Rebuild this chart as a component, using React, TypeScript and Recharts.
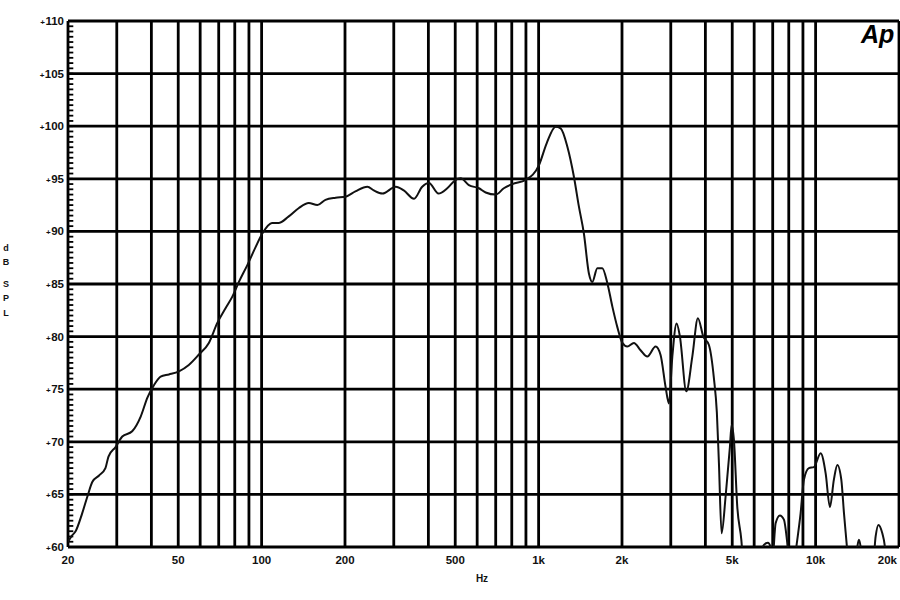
import React from 'react'
import { LineChart, Line, XAxis, YAxis, CartesianGrid, ReferenceLine } from 'recharts'

// frequency response (Hz, dB SPL)
const FREQS = [
  20, 20.7, 21.3, 22.5, 23.5, 24.5, 25.9, 27.3, 28, 29.7, 31.4, 34.1, 36.6, 38.7, 40.9, 43.2, 46.3, 50.3,
  54.6, 59.4, 64.5, 69.2, 74.1, 78.4, 82.8, 88.8, 95.1, 100.6, 109, 115, 125, 136, 148, 159, 170, 185, 201,
  218, 241, 254, 273, 305, 326, 355, 380, 402, 435, 468, 502, 523, 560, 609, 644, 700, 749, 804, 898, 1003,
  1070, 1152, 1201, 1270, 1341, 1398, 1457, 1519, 1563, 1629, 1698, 1770, 1846, 1924, 2006, 2090, 2208,
  2334, 2469, 2645, 2756, 2874, 2954, 3039, 3149, 3237, 3414, 3588, 3759, 3932, 4119, 4295, 4400, 4476,
  4577, 4732, 4904, 4974, 5070, 5215, 5392, 5496, 5826, 6346, 6507, 6726, 6878, 6994, 7171, 7431, 7683,
  7902, 8055, 8328, 8538, 8826, 9073, 9458, 9860, 10430, 10870, 11260, 11640, 11980, 12380, 12660, 12940,
  13270, 13710, 14140, 14330, 14540, 14780, 16060, 16470, 16850, 17410, 17750, 18050, 20000,
]
const SPL = [
  60.5, 61.1, 61.5, 63.2, 64.8, 66.2, 66.8, 67.5, 68.6, 69.5, 70.5, 71.0, 72.4, 74.2, 75.4, 76.2, 76.4, 76.7,
  77.3, 78.3, 79.4, 81.3, 82.7, 83.8, 85.2, 86.8, 88.5, 89.8, 90.8, 90.8, 91.4, 92.2, 92.7, 92.5, 93.0, 93.2, 93.3,
  93.8, 94.25, 93.9, 93.6, 94.25, 93.9, 93.1, 94.25, 94.6, 93.6, 94.1, 94.9, 95.05, 94.4, 94.1, 93.7, 93.5, 94.1,
  94.5, 94.9, 96.3, 98.4, 99.95, 99.8, 98.05, 95.2, 92.35, 89.8, 86.0, 85.2, 86.5, 86.5, 85.1, 82.85, 80.9, 79.4,
  79.05, 79.4, 78.7, 78.1, 79.05, 78.25, 75.2, 73.65, 78.1, 81.25, 80.0, 74.8, 78.1, 81.75, 80.0, 79.2, 76.0,
  72.8, 68.0, 61.3, 64.8, 69.5, 71.6, 70.2, 63.8, 60.7, 58, 55, 59.5, 60.2, 60.4, 60.0, 59, 62.25, 63.0, 62.6,
  60.35, 58, 58, 60.2, 63.2, 66.4, 67.5, 67.6, 68.9, 67.0, 63.8, 66.4, 67.8, 66.4, 63.2, 60.35, 57, 57, 60.0,
  60.7, 60.0, 58, 58, 61.0, 62.1, 61.3, 60.2, 58, 57,
]

const GRID_FREQS = [
  20, 30, 40, 50, 60, 70, 80, 90, 100, 200, 300, 400, 500, 600, 700, 800, 900, 1000, 2000, 3000, 4000,
  5000, 6000, 7000, 8000, 9000, 10000, 20000,
]
const FREQ_LABELS: Record<number, string> = {
  20: '20', 50: '50', 100: '100', 200: '200', 500: '500', 1000: '1k', 2000: '2k', 5000: '5k',
  10000: '10k', 20000: '20k',
}
const DB_TICKS = [60, 65, 70, 75, 80, 85, 90, 95, 100, 105, 110]
const MINOR_TICKS = Array.from({ length: 101 }, (_, i) => 60 + i * 0.5)

const data = FREQS.map((f, i) => ({ f, spl: SPL[i] }))

const FONT = '"Liberation Sans", Arial, sans-serif'

const FreqTick = (props: any) => {
  const { x, y, payload } = props
  const label = FREQ_LABELS[payload.value]
  if (!label) return <g />
  const last = payload.value === 20000
  return (
    <text x={last ? x - 2 : x} y={y + 17} textAnchor={last ? 'end' : 'middle'} fontFamily={FONT}
      fontWeight="bold" fontSize={11.5} fill="#111">
      {label}
    </text>
  )
}

const DbTick = (props: any) => {
  const { x, y, payload } = props
  return (
    <text x={x - 4} y={y + 4} textAnchor="end" fontFamily={FONT} fontWeight="bold" fontSize={11.5} fill="#111">
      <tspan fontSize={8}>+</tspan>
      <tspan dx={0.5}>{payload.value}</tspan>
    </text>
  )
}

const App: React.FC = () => {
  return (
    <div style={{ position: 'absolute', left: 0, top: 0, width: 900, height: 600, background: '#fff' }}>
      <LineChart width={900} height={600} data={data} margin={{ top: 21, right: 1, left: 0, bottom: 0 }}>
        <CartesianGrid stroke="#000" strokeWidth={2.8} />
        {/* ruler marks every half dB along the left edge */}
        {MINOR_TICKS.map((v) => (
          <ReferenceLine
            key={'m' + v}
            segment={[{ x: 20, y: v }, { x: 20.9, y: v }]}
            stroke="#000"
            strokeWidth={1.8}
          />
        ))}
        <XAxis
          dataKey="f"
          type="number"
          scale="log"
          domain={[20, 20000]}
          allowDataOverflow
          ticks={GRID_FREQS}
          interval={0}
          tick={<FreqTick />}
          tickLine={false}
          axisLine={false}
          tickSize={0}
          tickMargin={0}
          height={53}
        />
        <YAxis
          type="number"
          domain={[60, 110]}
          allowDataOverflow
          ticks={DB_TICKS}
          interval={0}
          width={68}
          tick={<DbTick />}
          tickLine={false}
          axisLine={false}
          tickSize={0}
          tickMargin={0}
        />
        <Line
          type="monotone"
          dataKey="spl"
          stroke="#111"
          strokeWidth={2}
          dot={false}
          isAnimationActive={false}
        />
      </LineChart>
      <svg width={900} height={600} style={{ position: 'absolute', left: 0, top: 0, pointerEvents: 'none' }}>
        <g fontFamily={FONT} fontWeight="bold" fontSize={9} fill="#111" textAnchor="middle">
          <text x={6} y={251}>d</text>
          <text x={6} y={265}>B</text>
          <text x={6} y={287}>S</text>
          <text x={6} y={301}>P</text>
          <text x={6} y={316}>L</text>
        </g>
        <text x={482} y={582} textAnchor="middle" fontFamily={FONT} fontWeight="bold" fontSize={10} fill="#111">
          Hz
        </text>
        <text x={861} y={43} fontFamily={FONT} fontWeight="bold" fontStyle="italic" fontSize={25} fill="#000">
          Ap
        </text>
      </svg>
    </div>
  )
}

export default App
